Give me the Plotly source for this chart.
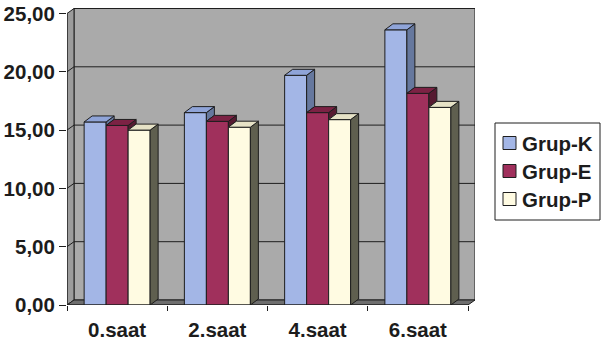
import plotly.graph_objects as go

# ---- data -------------------------------------------------------------
categories = ["0.saat", "2.saat", "4.saat", "6.saat"]
series_names = ["Grup-K", "Grup-E", "Grup-P"]
grup_k = [15.7, 16.5, 19.7, 23.6]
grup_e = [15.4, 15.75, 16.5, 18.15]
grup_p = [15.0, 15.25, 15.9, 16.95]
y_ticks = [0, 5, 10, 15, 20, 25]

series_values = [grup_k, grup_e, grup_p]

# ---- styling ----------------------------------------------------------
front_colors = ["#a3b6e6", "#a0305c", "#fffbe2"]
top_colors = ["#8fa4d8", "#7c2244", "#e6e2c6"]
side_colors = ["#66789e", "#561a31", "#5f5f4f"]
wall_color = "#aaaaaa"
side_wall_color = "#9c9c9c"
floor_color = "#6e6e6e"
edge_color = "#1e1e1e"
text_color = "#1c1c1c"
font_family = "Liberation Sans, Arial, sans-serif"

W, H = 601, 343
M_L, M_R, M_T, M_B = 67, 126, 8, 38
plot_w = W - M_L - M_R
plot_h = H - M_T - M_B

px_per_cat = 100.25          # horizontal pixels per category
px_per_unit = 11.66          # vertical pixels per value unit
x_lo = -0.5
x_hi = x_lo + plot_w / px_per_cat
y_hi = plot_h / px_per_unit
y_top = y_ticks[-1]
x_end = len(categories) - 0.5

# 3D depth offsets (data units)
wall_dx, wall_dy = 7 / px_per_cat, 5 / px_per_unit
bar_dx, bar_dy = 8 / px_per_cat, 6 / px_per_unit
bar_w = 22 / px_per_cat
group_w = bar_w * len(series_names)

idx = list(range(len(categories)))

fig = go.Figure()

# ---- front faces: ordinary bars ---------------------------------------
for i, (name, vals) in enumerate(zip(series_names, series_values)):
    fig.add_trace(go.Bar(
        x=idx, y=vals, name=name,
        width=bar_w, offset=-group_w / 2 + i * bar_w,
        marker=dict(color=front_colors[i], line=dict(color=edge_color, width=1)),
        showlegend=False,
    ))

# ---- top and side faces of each bar -----------------------------------
def add_polys(polys, color):
    xs, ys = [], []
    for poly in polys:
        for px, py in poly:
            xs.append(px)
            ys.append(py)
        xs.append(poly[0][0])
        ys.append(poly[0][1])
        xs.append(None)
        ys.append(None)
    fig.add_trace(go.Scatter(
        x=xs, y=ys, mode="lines", fill="toself", fillcolor=color,
        line=dict(color=edge_color, width=1), hoverinfo="skip",
        showlegend=False,
    ))

for i, vals in enumerate(series_values):
    tops, sides = [], []
    for j, v in enumerate(vals):
        xl = j - group_w / 2 + i * bar_w
        xr = xl + bar_w
        nxt = series_values[i + 1][j] if i + 1 < len(series_values) else 0
        base = min(max(nxt, 0), v)
        tops.append([(xl, v), (xr, v), (xr + bar_dx, v + bar_dy), (xl + bar_dx, v + bar_dy)])
        if v > base:
            sides.append([(xr, base), (xr + bar_dx, base + bar_dy),
                          (xr + bar_dx, v + bar_dy), (xr, v)])
    add_polys(sides, side_colors[i])
    add_polys(tops, top_colors[i])

# ---- walls, floor and gridlines ---------------------------------------
shapes = []
line = dict(color=edge_color, width=1)
# back wall
shapes.append(dict(type="rect", xref="x", yref="y", layer="below",
                   x0=x_lo + wall_dx, x1=x_end + wall_dx,
                   y0=wall_dy, y1=y_top + wall_dy,
                   fillcolor=wall_color, line=line))
# left wall
shapes.append(dict(type="path", xref="x", yref="y", layer="below",
                   path=f"M{x_lo},0 L{x_lo + wall_dx},{wall_dy} L{x_lo + wall_dx},{y_top + wall_dy} L{x_lo},{y_top} Z",
                   fillcolor=side_wall_color, line=line))
# floor
shapes.append(dict(type="path", xref="x", yref="y", layer="below",
                   path=f"M{x_lo},0 L{x_end},0 L{x_end + wall_dx},{wall_dy} L{x_lo + wall_dx},{wall_dy} Z",
                   fillcolor=floor_color, line=line))
for t in y_ticks[1:-1]:
    shapes.append(dict(type="line", xref="x", yref="y", layer="below",
                       x0=x_lo + wall_dx, x1=x_end + wall_dx,
                       y0=t + wall_dy, y1=t + wall_dy, line=line))
    shapes.append(dict(type="line", xref="x", yref="y", layer="below",
                       x0=x_lo, x1=x_lo + wall_dx, y0=t, y1=t + wall_dy, line=line))
# front axis lines
shapes.append(dict(type="line", xref="x", yref="y", layer="above",
                   x0=x_lo, x1=x_lo, y0=0, y1=y_top, line=line))
shapes.append(dict(type="line", xref="x", yref="y", layer="above",
                   x0=x_lo, x1=x_end, y0=0, y1=0, line=line))

# ---- legend (boxed, square swatches) ----------------------------------
def fx(px):
    return (px - M_L) / plot_w


def fy(py):
    return (H - M_B - py) / plot_h


annotations = []
shapes.append(dict(type="rect", xref="paper", yref="paper",
                   x0=fx(495), x1=fx(600), y0=fy(220), y1=fy(123),
                   fillcolor="white", line=dict(color=edge_color, width=1)))
legend_rows = [143, 171, 199]
for i, name in enumerate(series_names):
    cy = legend_rows[i]
    shapes.append(dict(type="rect", xref="paper", yref="paper",
                       x0=fx(503), x1=fx(516), y0=fy(cy + 6.5), y1=fy(cy - 6.5),
                       fillcolor=front_colors[i], line=dict(color=edge_color, width=1)))
    annotations.append(dict(xref="paper", yref="paper", x=fx(520), y=fy(cy),
                            xanchor="left", yanchor="middle", showarrow=False,
                            text=name,
                            font=dict(family=font_family, size=20.5, color=text_color, weight="bold")))

tick_font = dict(family=font_family, size=20.5, color=text_color, weight="bold")

fig.update_layout(
    width=W, height=H,
    margin=dict(l=M_L, r=M_R, t=M_T, b=M_B, pad=0, autoexpand=False),
    paper_bgcolor="white", plot_bgcolor="white",
    barmode="overlay",
    separators=", ",
    showlegend=False,
    shapes=shapes,
    annotations=annotations,
    xaxis=dict(
        range=[x_lo, x_hi], tickmode="array", tickvals=idx, ticktext=categories,
        ticks="", showgrid=False, zeroline=False, showline=False,
        tickfont=tick_font, ticklabelstandoff=10, automargin=False,
        minor=dict(tickmode="linear", tick0=-0.5, dtick=1, ticks="outside",
                   ticklen=5, tickcolor=edge_color, showgrid=False),
        fixedrange=True,
    ),
    yaxis=dict(
        range=[0, y_hi], tickmode="array", tickvals=y_ticks, tickformat=".2f",
        ticks="outside", ticklen=7, tickcolor=edge_color,
        showgrid=False, zeroline=False, showline=False, automargin=False,
        tickfont=tick_font, fixedrange=True,
    ),
)

fig.write_html("out.html")
